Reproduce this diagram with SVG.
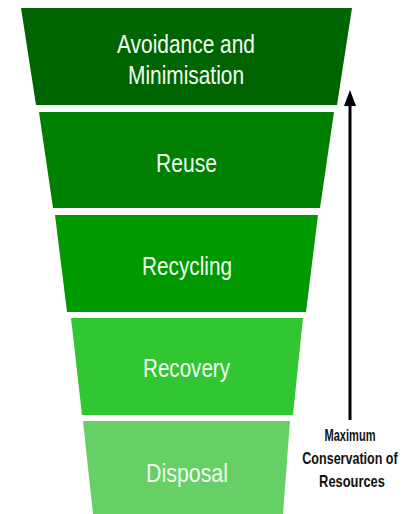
<svg xmlns="http://www.w3.org/2000/svg" width="407" height="514" viewBox="0 0 407 514">
<defs>
<style>
.lbl{font-family:"Liberation Sans",Arial,sans-serif;font-size:25px;fill:#f2fff0;text-anchor:middle}
.side{font-family:"Liberation Sans",Arial,sans-serif;font-size:16.5px;font-weight:bold;fill:#111;text-anchor:middle}
</style>
<marker id="ah" viewBox="0 0 16 12" refX="1" refY="6" markerWidth="16" markerHeight="12" markerUnits="userSpaceOnUse" orient="auto">
<path d="M0,0 L16,6 L0,12 Z" fill="#000"/>
</marker>
</defs>
<rect width="407" height="514" fill="#fff"/>
<g id="avoidance">
<polygon points="21,8 352,8 337,105 36,105" fill="#006400"/>
<text class="lbl" x="186" y="53" textLength="138" lengthAdjust="spacingAndGlyphs">Avoidance and</text>
<text class="lbl" x="186" y="84" textLength="116" lengthAdjust="spacingAndGlyphs">Minimisation</text>
</g>
<g id="reuse">
<polygon points="39,112 334,112 320,208 53,208" fill="#008000"/>
<text class="lbl" x="186.5" y="172" textLength="61" lengthAdjust="spacingAndGlyphs">Reuse</text>
</g>
<g id="recycling">
<polygon points="55,215 318,215 306,312 67,312" fill="#009900"/>
<text class="lbl" x="187" y="275" textLength="90" lengthAdjust="spacingAndGlyphs">Recycling</text>
</g>
<g id="recovery">
<polygon points="71,318 303,318 293,415 82,415" fill="#33c633"/>
<text class="lbl" x="186.5" y="377" textLength="87" lengthAdjust="spacingAndGlyphs">Recovery</text>
</g>
<g id="disposal">
<polygon points="83,421 290,421 283,514 93,514" fill="#66d066"/>
<text class="lbl" x="187" y="482" textLength="82" lengthAdjust="spacingAndGlyphs">Disposal</text>
</g>
<g id="connectors">
<line x1="350" y1="420" x2="350" y2="105" stroke="#000" stroke-width="3" marker-end="url(#ah)"/>
</g>
<g id="note">
<text class="side" transform="translate(350,441) scale(0.67,1)">Maximum</text>
<text class="side" transform="translate(350,464) scale(0.76,1)">Conservation of</text>
<text class="side" transform="translate(352,487) scale(0.78,1)">Resources</text>
</g>
</svg>
